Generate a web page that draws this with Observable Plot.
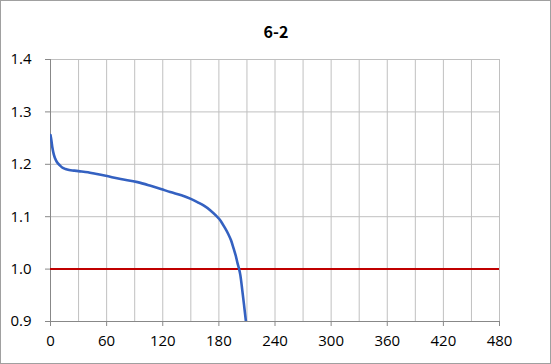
<!DOCTYPE html>
<html>
<head>
<meta charset="utf-8">
<script src="https://cdn.jsdelivr.net/npm/d3@7"></script>
<script src="https://cdn.jsdelivr.net/npm/@observablehq/plot@0.6"></script>
<style>
  html, body { margin: 0; padding: 0; background: #fff; }
  #chart svg { display: block; outline: 1px solid #a0a0a0; outline-offset: -1px; }
</style>
</head>
<body>
<div id="chart"></div>
<script>
const title = "6-2";
const timeMin = [0, 1, 2, 3.5, 5, 7, 10, 12.5, 16, 20, 25, 30, 40, 48, 59, 75, 93, 107, 118, 128, 140, 150, 158, 164, 171, 177, 182, 186, 190, 193, 196, 198, 200, 201.5, 203, 205, 207, 209];
const voltage = [1.256, 1.245, 1.232, 1.219, 1.211, 1.204, 1.198, 1.194, 1.191, 1.189, 1.188, 1.187, 1.185, 1.182, 1.178, 1.172, 1.166, 1.159, 1.153, 1.147, 1.141, 1.134, 1.127, 1.121, 1.112, 1.102, 1.092, 1.080, 1.067, 1.055, 1.038, 1.026, 1.011, 1.001, 0.988, 0.960, 0.930, 0.899];
const xTicks = [0, 60, 120, 180, 240, 300, 360, 420, 480];
const xGrid = [0, 30, 60, 90, 120, 150, 180, 210, 240, 270, 300, 330, 360, 390, 420, 450, 480];
const yTicks = [0.9, 1.0, 1.1, 1.2, 1.3, 1.4];
const cutoff = [1.0];

const data = timeMin.map((t, i) => ({t, v: voltage[i]}));

const chart = Plot.plot({
  width: 551,
  height: 364,
  marginLeft: 50,
  marginRight: 52,
  marginTop: 59,
  marginBottom: 43,
  style: {fontFamily: "'Open Sans', sans-serif", fontSize: "15px", color: "#000", background: "#fff"},
  x: {domain: [0, 480]},
  y: {domain: [0.9, 1.4]},
  marks: [
    Plot.gridX(xGrid, {stroke: "#c0c0c0", strokeOpacity: 1, strokeWidth: 1}),
    Plot.gridY(yTicks, {stroke: "#c0c0c0", strokeOpacity: 1, strokeWidth: 1}),
    Plot.axisX(xTicks, {tickSize: 5, tickPadding: 9, stroke: "#888", fontSize: 15, label: null}),
    Plot.axisY(yTicks, {tickSize: 5, tickPadding: 14, stroke: "#888", fontSize: 15, tickFormat: d3.format(".1f"), label: null}),
    Plot.ruleX([0], {stroke: "#888"}),
    Plot.ruleY([0.9], {stroke: "#888"}),
    Plot.ruleY(cutoff, {x1: 0, x2: 480, stroke: "#c00000", strokeWidth: 2}),
    Plot.line(data, {x: "t", y: "v", stroke: "#3461c1", strokeWidth: 2.6, curve: "monotone-x", clip: true}),
    Plot.text([title], {frameAnchor: "top", dx: 1, dy: -33, fontFamily: "'Noto Sans CJK JP', sans-serif", fontWeight: "bold", fontSize: 16, fill: "#000"})
  ]
});
document.getElementById("chart").appendChild(chart);
</script>
</body>
</html>
